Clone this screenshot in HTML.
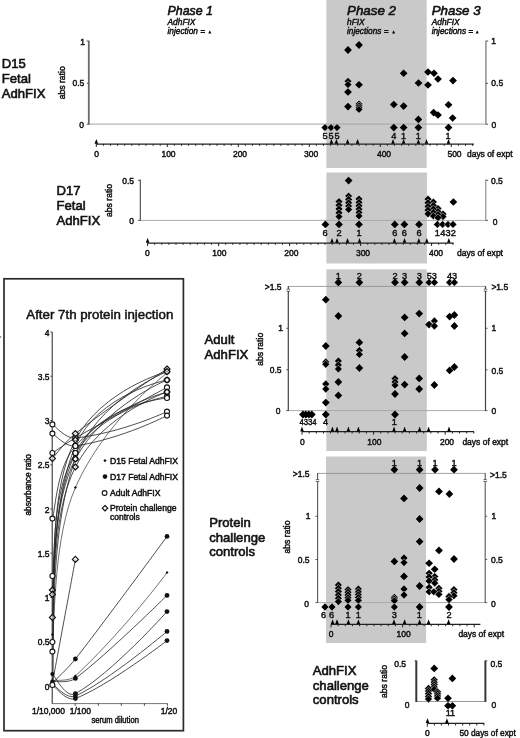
<!DOCTYPE html>
<html lang="en"><head><meta charset="utf-8"><title>Figure</title>
<style>html,body{margin:0;padding:0;background:#fff}svg{display:block}text{fill:#111;stroke:#111;stroke-width:0.45px}</style></head><body>
<svg width="520" height="738" viewBox="0 0 520 738" font-family="Liberation Sans, Arial, sans-serif">
<rect width="520" height="738" fill="#fff"/>
<rect x="326.4" y="0" width="100.3" height="168" fill="#c9c9c9"/>
<rect x="326.4" y="172.5" width="100.5" height="91.0" fill="#c9c9c9"/>
<rect x="326.4" y="269.3" width="100.4" height="181.7" fill="#c9c9c9"/>
<rect x="326.0" y="456.5" width="100.1" height="186.5" fill="#c9c9c9"/>
<text x="167.50" y="14.60" font-size="13.3" font-style="italic" style="stroke-width:0.6px" textLength="45.5" lengthAdjust="spacingAndGlyphs">Phase 1</text>
<text x="167.50" y="25.00" font-size="8.4" font-style="italic">AdhFIX</text>
<text x="167.50" y="34.10" font-size="8.4" font-style="italic" textLength="37.5" lengthAdjust="spacingAndGlyphs">injection =</text>
<path d="M208.3 33.5L209.8 30.3L211.3 33.5Z"/>
<text x="347.00" y="14.60" font-size="13.3" font-style="italic" style="stroke-width:0.6px" textLength="49" lengthAdjust="spacingAndGlyphs">Phase 2</text>
<text x="347.00" y="25.00" font-size="8.4" font-style="italic">hFIX</text>
<text x="347.00" y="34.10" font-size="8.4" font-style="italic" textLength="41.5" lengthAdjust="spacingAndGlyphs">injections =</text>
<path d="M392.1 33.5L393.6 30.3L395.1 33.5Z"/>
<text x="431.70" y="14.60" font-size="13.3" font-style="italic" style="stroke-width:0.6px" textLength="49" lengthAdjust="spacingAndGlyphs">Phase 3</text>
<text x="431.70" y="25.00" font-size="8.4" font-style="italic">AdhFIX</text>
<text x="431.70" y="34.10" font-size="8.4" font-style="italic" textLength="41.5" lengthAdjust="spacingAndGlyphs">injections =</text>
<path d="M475.7 33.5L477.2 30.3L478.7 33.5Z"/>
<text x="1.80" y="68.00" font-size="13.1" style="stroke-width:0.6px">D15</text>
<text x="1.80" y="83.00" font-size="13.1" style="stroke-width:0.6px">Fetal</text>
<text x="1.80" y="97.70" font-size="13.1" style="stroke-width:0.6px">AdhFIX</text>
<text transform="translate(64.5,82.8) rotate(-90)" font-size="8.4" text-anchor="middle" textLength="33" lengthAdjust="spacingAndGlyphs">abs ratio</text>
<path d="M89 124.1H486" stroke="#a4a4a4" stroke-width="1" fill="none"/>
<path d="M88.8 40.8V124.6" stroke="#6a6a6a" stroke-width="1.8" fill="none"/>
<path d="M485.9 40.8V124.6" stroke="#7c7c7c" stroke-width="1.3" fill="none"/>
<path d="M86.6 41h2.2M86.8 83.3h2M86.8 124.2h2M486 41h2.2M486 83.3h2M486 124.2h2" stroke="#444" stroke-width="0.9" fill="none"/>
<text x="85.00" y="44.90" font-size="8.5" text-anchor="end">1</text>
<text x="84.30" y="86.30" font-size="8.5" text-anchor="end">0.5</text>
<text x="84.00" y="127.60" font-size="8.5" text-anchor="end">0</text>
<text x="491.30" y="43.50" font-size="8.5">1</text>
<text x="491.30" y="86.00" font-size="8.5">0.5</text>
<text x="491.50" y="127.60" font-size="8.5">0</text>
<path d="M359.0 41.1L362.9 45.0L359.0 48.9L355.1 45.0Z"/>
<path d="M348.0 46.1L351.9 50.0L348.0 53.9L344.1 50.0Z"/>
<path d="M428.0 68.2L431.9 72.0L428.0 75.8L424.1 72.0Z"/>
<path d="M403.6 69.4L407.5 73.2L403.6 77.0L399.8 73.2Z"/>
<path d="M434.0 69.4L437.9 73.2L434.0 77.0L430.1 73.2Z"/>
<path d="M438.0 75.2L441.9 79.0L438.0 82.8L434.1 79.0Z"/>
<path d="M453.0 76.8L456.9 80.6L453.0 84.4L449.1 80.6Z"/>
<path d="M348.0 77.4L351.9 81.2L348.0 85.0L344.1 81.2Z" stroke="#fff" stroke-width="0.45"/>
<path d="M418.5 79.2L422.4 83.0L418.5 86.8L414.6 83.0Z"/>
<path d="M348.0 80.8L351.9 84.6L348.0 88.4L344.1 84.6Z" stroke="#fff" stroke-width="0.45"/>
<path d="M359.0 81.0L362.9 84.8L359.0 88.6L355.1 84.8Z"/>
<path d="M428.0 81.2L431.9 85.0L428.0 88.8L424.1 85.0Z"/>
<path d="M348.0 88.2L351.9 92.0L348.0 95.8L344.1 92.0Z"/>
<path d="M359.0 100.2L362.9 104.0L359.0 107.8L355.1 104.0Z" stroke="#fff" stroke-width="0.45"/>
<path d="M393.8 100.7L397.7 104.5L393.8 108.3L389.9 104.5Z"/>
<path d="M448.5 101.0L452.4 104.8L448.5 108.6L444.6 104.8Z"/>
<path d="M359.0 102.0L362.9 105.8L359.0 109.6L355.1 105.8Z" stroke="#fff" stroke-width="0.45"/>
<path d="M403.6 102.2L407.5 106.1L403.6 109.9L399.8 106.1Z"/>
<path d="M348.0 102.8L351.9 106.6L348.0 110.4L344.1 106.6Z"/>
<path d="M359.0 103.8L362.9 107.6L359.0 111.4L355.1 107.6Z" stroke="#fff" stroke-width="0.45"/>
<path d="M359.0 105.6L362.9 109.4L359.0 113.2L355.1 109.4Z" stroke="#fff" stroke-width="0.45"/>
<path d="M433.6 108.8L437.5 112.6L433.6 116.4L429.8 112.6Z"/>
<path d="M438.0 111.2L441.9 115.0L438.0 118.8L434.1 115.0Z"/>
<path d="M452.6 114.2L456.5 118.0L452.6 121.8L448.8 118.0Z"/>
<path d="M418.4 115.6L422.2 119.4L418.4 123.2L414.5 119.4Z"/>
<path d="M325.0 123.8L328.9 127.6L325.0 131.4L321.1 127.6Z" stroke="#fff" stroke-width="0.45"/>
<path d="M331.0 123.8L334.9 127.6L331.0 131.4L327.1 127.6Z" stroke="#fff" stroke-width="0.45"/>
<path d="M337.0 123.8L340.9 127.6L337.0 131.4L333.1 127.6Z" stroke="#fff" stroke-width="0.45"/>
<path d="M393.8 123.8L397.7 127.6L393.8 131.4L389.9 127.6Z"/>
<path d="M403.6 123.8L407.5 127.6L403.6 131.4L399.8 127.6Z"/>
<path d="M418.4 123.8L422.2 127.6L418.4 131.4L414.5 127.6Z"/>
<path d="M448.5 123.8L452.4 127.6L448.5 131.4L444.6 127.6Z"/>
<text x="325.00" y="138.60" font-size="9.2" text-anchor="middle">5</text>
<text x="331.00" y="138.60" font-size="9.2" text-anchor="middle">5</text>
<text x="337.00" y="138.60" font-size="9.2" text-anchor="middle">5</text>
<text x="393.80" y="138.60" font-size="9.2" text-anchor="middle">4</text>
<text x="403.60" y="138.60" font-size="9.2" text-anchor="middle">1</text>
<text x="418.40" y="138.60" font-size="9.2" text-anchor="middle">1</text>
<text x="448.00" y="138.60" font-size="9.2" text-anchor="middle">1</text>
<path d="M96.3 144H474.0" stroke="#222" stroke-width="1.25" fill="none"/>
<path d="M96.3 144v3.0M103.4 144v1.8M110.5 144v1.8M117.6 144v1.8M124.7 144v1.8M131.8 144v1.8M138.9 144v1.8M146.0 144v1.8M153.1 144v1.8M160.2 144v1.8M167.3 144v3.0M174.4 144v1.8M181.5 144v1.8M188.6 144v1.8M195.7 144v1.8M202.8 144v1.8M209.9 144v1.8M217.0 144v1.8M224.1 144v1.8M231.2 144v1.8M238.3 144v3.0M245.4 144v1.8M252.5 144v1.8M259.6 144v1.8M266.7 144v1.8M273.8 144v1.8M280.9 144v1.8M288.0 144v1.8M295.1 144v1.8M302.2 144v1.8M309.3 144v3.0M316.4 144v1.8M323.5 144v1.8M330.6 144v1.8M337.7 144v1.8M344.8 144v1.8M351.9 144v1.8M359.0 144v1.8M366.1 144v1.8M373.2 144v1.8M380.3 144v3.0M387.4 144v1.8M394.5 144v1.8M401.6 144v1.8M408.7 144v1.8M415.8 144v1.8M422.9 144v1.8M430.0 144v1.8M437.1 144v1.8M444.2 144v1.8M451.3 144v3.0M458.4 144v1.8M465.5 144v1.8M472.6 144v1.8" stroke="#222" stroke-width="1" fill="none"/>
<path d="M94.5 143.7L96.3 138.9L98.1 143.7Z"/>
<path d="M329.6 143.7L331.4 138.9L333.2 143.7Z"/>
<path d="M334.6 143.7L336.4 138.9L338.2 143.7Z"/>
<path d="M345.8 143.7L347.6 138.9L349.4 143.7Z"/>
<path d="M355.8 143.7L357.6 138.9L359.4 143.7Z"/>
<path d="M391.2 143.7L393.0 138.9L394.8 143.7Z"/>
<path d="M401.8 143.7L403.6 138.9L405.4 143.7Z"/>
<path d="M416.6 143.7L418.4 138.9L420.2 143.7Z"/>
<path d="M424.7 143.7L426.5 138.9L428.3 143.7Z"/>
<path d="M446.7 143.7L448.5 138.9L450.3 143.7Z"/>
<text x="96.60" y="157.00" font-size="8.5" text-anchor="middle">0</text>
<text x="168.50" y="157.00" font-size="8.5" text-anchor="middle">100</text>
<text x="240.00" y="157.00" font-size="8.5" text-anchor="middle">200</text>
<text x="311.20" y="157.00" font-size="8.5" text-anchor="middle">300</text>
<text x="384.00" y="157.00" font-size="8.5" text-anchor="middle">400</text>
<text x="454.50" y="157.00" font-size="8.5" text-anchor="middle">500</text>
<text x="467.00" y="157.00" font-size="8.5" textLength="45.5" lengthAdjust="spacingAndGlyphs">days of expt</text>
<text x="56.50" y="195.00" font-size="13.1" style="stroke-width:0.6px">D17</text>
<text x="56.50" y="209.60" font-size="13.1" style="stroke-width:0.6px">Fetal</text>
<text x="56.50" y="224.70" font-size="13.1" style="stroke-width:0.6px">AdhFIX</text>
<text transform="translate(111.6,200.5) rotate(-90)" font-size="8.4" text-anchor="middle" textLength="33" lengthAdjust="spacingAndGlyphs">abs ratio</text>
<path d="M140 220.4H486" stroke="#aaa" stroke-width="1" fill="none"/>
<path d="M140.3 179.6V220.8" stroke="#444" stroke-width="1.1" fill="none"/>
<path d="M485.8 179.6V220.8" stroke="#888" stroke-width="1.1" fill="none"/>
<path d="M138 180.3h2M138 220.4h2M486 180.3h2M486 220.4h2" stroke="#444" stroke-width="0.9" fill="none"/>
<text x="134.00" y="184.00" font-size="8.5" text-anchor="end">0.5</text>
<text x="134.00" y="223.60" font-size="8.5" text-anchor="end">0</text>
<text x="491.00" y="184.00" font-size="8.5">0.5</text>
<text x="492.80" y="225.20" font-size="8.5">0</text>
<path d="M348.6 176.8L352.5 180.6L348.6 184.4L344.8 180.6Z"/>
<path d="M348.6 192.2L352.5 196.0L348.6 199.8L344.8 196.0Z" stroke="#fff" stroke-width="0.45"/>
<path d="M359.0 195.2L362.9 199.0L359.0 202.8L355.1 199.0Z" stroke="#fff" stroke-width="0.45"/>
<path d="M428.0 195.3L431.9 199.2L428.0 203.0L424.1 199.2Z" stroke="#fff" stroke-width="0.45"/>
<path d="M348.6 195.5L352.5 199.4L348.6 203.2L344.8 199.4Z" stroke="#fff" stroke-width="0.45"/>
<path d="M339.0 197.8L342.9 201.6L339.0 205.4L335.1 201.6Z" stroke="#fff" stroke-width="0.45"/>
<path d="M433.4 198.2L437.2 202.0L433.4 205.8L429.5 202.0Z" stroke="#fff" stroke-width="0.45"/>
<path d="M453.4 198.2L457.2 202.0L453.4 205.8L449.5 202.0Z"/>
<path d="M359.0 198.6L362.9 202.4L359.0 206.2L355.1 202.4Z" stroke="#fff" stroke-width="0.45"/>
<path d="M348.6 198.9L352.5 202.8L348.6 206.6L344.8 202.8Z" stroke="#fff" stroke-width="0.45"/>
<path d="M428.0 199.0L431.9 202.8L428.0 206.7L424.1 202.8Z" stroke="#fff" stroke-width="0.45"/>
<path d="M339.0 201.5L342.9 205.3L339.0 209.2L335.1 205.3Z" stroke="#fff" stroke-width="0.45"/>
<path d="M433.4 201.7L437.2 205.5L433.4 209.3L429.5 205.5Z" stroke="#fff" stroke-width="0.45"/>
<path d="M359.0 202.0L362.9 205.8L359.0 209.7L355.1 205.8Z" stroke="#fff" stroke-width="0.45"/>
<path d="M348.6 202.3L352.5 206.1L348.6 210.0L344.8 206.1Z" stroke="#fff" stroke-width="0.45"/>
<path d="M428.0 202.7L431.9 206.5L428.0 210.3L424.1 206.5Z" stroke="#fff" stroke-width="0.45"/>
<path d="M438.0 204.7L441.9 208.5L438.0 212.3L434.1 208.5Z" stroke="#fff" stroke-width="0.45"/>
<path d="M433.4 205.2L437.2 209.0L433.4 212.8L429.5 209.0Z" stroke="#fff" stroke-width="0.45"/>
<path d="M339.0 205.2L342.9 209.1L339.0 212.9L335.1 209.1Z" stroke="#fff" stroke-width="0.45"/>
<path d="M359.0 205.3L362.9 209.2L359.0 213.0L355.1 209.2Z" stroke="#fff" stroke-width="0.45"/>
<path d="M348.6 205.7L352.5 209.5L348.6 213.3L344.8 209.5Z" stroke="#fff" stroke-width="0.45"/>
<path d="M428.0 206.3L431.9 210.2L428.0 214.0L424.1 210.2Z" stroke="#fff" stroke-width="0.45"/>
<path d="M438.0 207.7L441.9 211.6L438.0 215.4L434.1 211.6Z" stroke="#fff" stroke-width="0.45"/>
<path d="M433.4 208.7L437.2 212.5L433.4 216.3L429.5 212.5Z" stroke="#fff" stroke-width="0.45"/>
<path d="M359.0 208.8L362.9 212.6L359.0 216.4L355.1 212.6Z" stroke="#fff" stroke-width="0.45"/>
<path d="M339.0 209.0L342.9 212.8L339.0 216.7L335.1 212.8Z" stroke="#fff" stroke-width="0.45"/>
<path d="M428.0 210.0L431.9 213.8L428.0 217.7L424.1 213.8Z" stroke="#fff" stroke-width="0.45"/>
<path d="M443.0 210.2L446.9 214.0L443.0 217.8L439.1 214.0Z" stroke="#fff" stroke-width="0.45"/>
<path d="M438.0 210.8L441.9 214.6L438.0 218.5L434.1 214.6Z" stroke="#fff" stroke-width="0.45"/>
<path d="M359.0 212.2L362.9 216.0L359.0 219.8L355.1 216.0Z" stroke="#fff" stroke-width="0.45"/>
<path d="M433.4 212.2L437.2 216.0L433.4 219.8L429.5 216.0Z" stroke="#fff" stroke-width="0.45"/>
<path d="M339.0 212.8L342.9 216.6L339.0 220.4L335.1 216.6Z" stroke="#fff" stroke-width="0.45"/>
<path d="M443.0 212.8L446.9 216.6L443.0 220.4L439.1 216.6Z" stroke="#fff" stroke-width="0.45"/>
<path d="M438.0 213.8L441.9 217.7L438.0 221.5L434.1 217.7Z" stroke="#fff" stroke-width="0.45"/>
<path d="M325.4 220.6L329.2 224.4L325.4 228.2L321.5 224.4Z"/>
<path d="M339.0 220.6L342.9 224.4L339.0 228.2L335.1 224.4Z"/>
<path d="M359.0 220.6L362.9 224.4L359.0 228.2L355.1 224.4Z"/>
<path d="M394.8 220.6L398.7 224.4L394.8 228.2L390.9 224.4Z"/>
<path d="M404.4 220.6L408.2 224.4L404.4 228.2L400.5 224.4Z"/>
<path d="M419.0 220.6L422.9 224.4L419.0 228.2L415.1 224.4Z"/>
<path d="M437.4 220.6L441.2 224.4L437.4 228.2L433.5 224.4Z" stroke="#fff" stroke-width="0.45"/>
<path d="M442.6 220.6L446.5 224.4L442.6 228.2L438.8 224.4Z" stroke="#fff" stroke-width="0.45"/>
<path d="M448.0 220.6L451.9 224.4L448.0 228.2L444.1 224.4Z" stroke="#fff" stroke-width="0.45"/>
<path d="M453.0 220.6L456.9 224.4L453.0 228.2L449.1 224.4Z" stroke="#fff" stroke-width="0.45"/>
<text x="325.00" y="236.00" font-size="9.2" text-anchor="middle">6</text>
<text x="339.00" y="236.00" font-size="9.2" text-anchor="middle">2</text>
<text x="359.00" y="236.00" font-size="9.2" text-anchor="middle">1</text>
<text x="394.80" y="236.00" font-size="9.2" text-anchor="middle">6</text>
<text x="404.40" y="236.00" font-size="9.2" text-anchor="middle">6</text>
<text x="419.00" y="236.00" font-size="9.2" text-anchor="middle">6</text>
<text x="437.40" y="236.00" font-size="9.2" text-anchor="middle">1</text>
<text x="442.70" y="236.00" font-size="9.2" text-anchor="middle">4</text>
<text x="448.00" y="236.00" font-size="9.2" text-anchor="middle">3</text>
<text x="453.20" y="236.00" font-size="9.2" text-anchor="middle">2</text>
<path d="M147.6 243H453.8" stroke="#222" stroke-width="1.25" fill="none"/>
<path d="M147.6 243v3.0M154.7 243v1.8M161.8 243v1.8M168.9 243v1.8M176.0 243v1.8M183.1 243v1.8M190.2 243v1.8M197.3 243v1.8M204.4 243v1.8M211.5 243v1.8M218.6 243v3.0M225.7 243v1.8M232.8 243v1.8M239.9 243v1.8M247.0 243v1.8M254.1 243v1.8M261.2 243v1.8M268.3 243v1.8M275.4 243v1.8M282.5 243v1.8M289.6 243v3.0M296.7 243v1.8M303.8 243v1.8M310.9 243v1.8M318.0 243v1.8M325.1 243v1.8M332.2 243v1.8M339.3 243v1.8M346.4 243v1.8M353.5 243v1.8M360.6 243v3.0M367.7 243v1.8M374.8 243v1.8M381.9 243v1.8M389.0 243v1.8M396.1 243v1.8M403.2 243v1.8M410.3 243v1.8M417.4 243v1.8M424.5 243v1.8M431.6 243v3.0M438.7 243v1.8M445.8 243v1.8M452.9 243v1.8" stroke="#222" stroke-width="1" fill="none"/>
<path d="M145.8 242.7L147.6 237.9L149.4 242.7Z"/>
<path d="M330.2 242.7L332.0 237.9L333.8 242.7Z"/>
<path d="M335.2 242.7L337.0 237.9L338.8 242.7Z"/>
<path d="M345.7 242.7L347.5 237.9L349.3 242.7Z"/>
<path d="M357.7 242.7L359.5 237.9L361.3 242.7Z"/>
<path d="M392.6 242.7L394.4 237.9L396.2 242.7Z"/>
<path d="M402.7 242.7L404.5 237.9L406.3 242.7Z"/>
<path d="M417.0 242.7L418.8 237.9L420.6 242.7Z"/>
<path d="M425.0 242.7L426.8 237.9L428.6 242.7Z"/>
<path d="M447.0 242.7L448.8 237.9L450.6 242.7Z"/>
<text x="147.30" y="256.00" font-size="8.5" text-anchor="middle">0</text>
<text x="219.30" y="256.00" font-size="8.5" text-anchor="middle">100</text>
<text x="291.30" y="256.00" font-size="8.5" text-anchor="middle">200</text>
<text x="363.00" y="256.00" font-size="8.5" text-anchor="middle">300</text>
<text x="436.00" y="256.00" font-size="8.5" text-anchor="middle">400</text>
<text x="457.00" y="256.00" font-size="8.5" textLength="46" lengthAdjust="spacingAndGlyphs">days of expt</text>
<text x="204.60" y="343.60" font-size="13.1" style="stroke-width:0.6px">Adult</text>
<text x="204.60" y="358.80" font-size="13.1" style="stroke-width:0.6px">AdhFIX</text>
<text transform="translate(263.4,349.3) rotate(-90)" font-size="8.4" text-anchor="middle" textLength="33" lengthAdjust="spacingAndGlyphs">abs ratio</text>
<path d="M288.3 286.4H485.5" stroke="#8a8a8a" stroke-width="0.8" fill="none"/>
<path d="M288.3 410.6H485.5" stroke="#aaa" stroke-width="1" fill="none"/>
<path d="M288.3 286V411.1M485.5 286V411.1" stroke="#444" stroke-width="1.2" fill="none"/>
<path d="M286.3 328.3h2M286.3 369.8h2M286.3 410.6h2M485.5 328.3h2M485.5 369.8h2M485.5 410.6h2" stroke="#444" stroke-width="0.9" fill="none"/>
<path d="M286.6 289.3h3.4M286.6 291h3.4M483.8 289.3h3.4M483.8 291h3.4" stroke="#222" stroke-width="0.8" fill="none"/>
<rect x="287.4" y="289.4" width="1.8" height="1.5" fill="#fff"/><rect x="484.6" y="289.4" width="1.8" height="1.5" fill="#fff"/>
<text x="281.50" y="289.80" font-size="8.5" text-anchor="end">&gt;1.5</text>
<text x="283.00" y="331.30" font-size="8.5" text-anchor="end">1</text>
<text x="281.50" y="373.00" font-size="8.5" text-anchor="end">0.5</text>
<text x="280.50" y="413.80" font-size="8.5" text-anchor="end">0</text>
<text x="491.40" y="289.80" font-size="8.5">&gt;1.5</text>
<text x="491.50" y="331.30" font-size="8.5">1</text>
<text x="491.50" y="373.50" font-size="8.5">0.5</text>
<text x="491.50" y="413.60" font-size="8.5">0</text>
<path d="M338.4 278.5L342.2 282.4L338.4 286.2L334.5 282.4Z"/>
<path d="M359.4 278.5L363.2 282.4L359.4 286.2L355.5 282.4Z"/>
<path d="M395.0 278.5L398.9 282.4L395.0 286.2L391.1 282.4Z"/>
<path d="M404.6 278.5L408.5 282.4L404.6 286.2L400.8 282.4Z"/>
<path d="M419.3 278.5L423.2 282.4L419.3 286.2L415.4 282.4Z"/>
<path d="M429.0 278.5L432.9 282.4L429.0 286.2L425.1 282.4Z" stroke="#fff" stroke-width="0.45"/>
<path d="M434.4 278.5L438.2 282.4L434.4 286.2L430.5 282.4Z" stroke="#fff" stroke-width="0.45"/>
<path d="M449.6 278.5L453.5 282.4L449.6 286.2L445.8 282.4Z" stroke="#fff" stroke-width="0.45"/>
<path d="M454.4 278.5L458.2 282.4L454.4 286.2L450.5 282.4Z" stroke="#fff" stroke-width="0.45"/>
<path d="M325.8 295.8L329.7 299.7L325.8 303.6L321.9 299.7Z"/>
<path d="M419.2 309.8L423.1 313.6L419.2 317.5L415.3 313.6Z"/>
<path d="M454.4 311.1L458.2 315.0L454.4 318.9L450.5 315.0Z"/>
<path d="M338.4 312.1L342.2 316.0L338.4 319.9L334.5 316.0Z"/>
<path d="M449.6 312.8L453.5 316.6L449.6 320.5L445.8 316.6Z"/>
<path d="M404.6 313.5L408.5 317.4L404.6 321.2L400.8 317.4Z"/>
<path d="M434.4 317.1L438.2 321.0L434.4 324.9L430.5 321.0Z" stroke="#fff" stroke-width="0.45"/>
<path d="M429.0 320.8L432.9 324.6L429.0 328.5L425.1 324.6Z"/>
<path d="M434.4 322.1L438.2 326.0L434.4 329.9L430.5 326.0Z" stroke="#fff" stroke-width="0.45"/>
<path d="M454.4 322.1L458.2 326.0L454.4 329.9L450.5 326.0Z"/>
<path d="M404.6 329.5L408.5 333.4L404.6 337.2L400.8 333.4Z"/>
<path d="M359.4 338.5L363.2 342.4L359.4 346.2L355.5 342.4Z"/>
<path d="M325.8 342.1L329.7 346.0L325.8 349.9L321.9 346.0Z"/>
<path d="M359.4 346.5L363.2 350.4L359.4 354.2L355.5 350.4Z" stroke="#fff" stroke-width="0.45"/>
<path d="M359.4 350.5L363.2 354.4L359.4 358.2L355.5 354.4Z" stroke="#fff" stroke-width="0.45"/>
<path d="M404.6 353.1L408.5 357.0L404.6 360.9L400.8 357.0Z"/>
<path d="M338.4 357.1L342.2 361.0L338.4 364.9L334.5 361.0Z" stroke="#fff" stroke-width="0.45"/>
<path d="M325.8 358.1L329.7 362.0L325.8 365.9L321.9 362.0Z" stroke="#fff" stroke-width="0.45"/>
<path d="M325.8 360.4L329.7 364.3L325.8 368.2L321.9 364.3Z" stroke="#fff" stroke-width="0.45"/>
<path d="M338.4 361.1L342.2 365.0L338.4 368.9L334.5 365.0Z" stroke="#fff" stroke-width="0.45"/>
<path d="M454.4 363.1L458.2 367.0L454.4 370.9L450.5 367.0Z"/>
<path d="M359.4 364.1L363.2 368.0L359.4 371.9L355.5 368.0Z"/>
<path d="M338.4 365.1L342.2 369.0L338.4 372.9L334.5 369.0Z" stroke="#fff" stroke-width="0.45"/>
<path d="M449.6 366.5L453.5 370.4L449.6 374.2L445.8 370.4Z"/>
<path d="M419.2 374.5L423.1 378.4L419.2 382.2L415.3 378.4Z"/>
<path d="M395.0 374.8L398.9 378.6L395.0 382.5L391.1 378.6Z" stroke="#fff" stroke-width="0.45"/>
<path d="M338.4 378.1L342.2 382.0L338.4 385.9L334.5 382.0Z"/>
<path d="M395.0 378.1L398.9 382.0L395.0 385.9L391.1 382.0Z" stroke="#fff" stroke-width="0.45"/>
<path d="M325.8 380.1L329.7 384.0L325.8 387.9L321.9 384.0Z" stroke="#fff" stroke-width="0.45"/>
<path d="M404.6 380.8L408.5 384.6L404.6 388.5L400.8 384.6Z"/>
<path d="M434.4 381.1L438.2 385.0L434.4 388.9L430.5 385.0Z"/>
<path d="M395.0 381.3L398.9 385.2L395.0 389.1L391.1 385.2Z" stroke="#fff" stroke-width="0.45"/>
<path d="M325.8 385.1L329.7 389.0L325.8 392.9L321.9 389.0Z" stroke="#fff" stroke-width="0.45"/>
<path d="M419.2 385.1L423.1 389.0L419.2 392.9L415.3 389.0Z"/>
<path d="M395.0 390.1L398.9 394.0L395.0 397.9L391.1 394.0Z"/>
<path d="M338.4 391.5L342.2 395.4L338.4 399.2L334.5 395.4Z"/>
<path d="M325.8 398.8L329.7 402.6L325.8 406.5L321.9 402.6Z"/>
<path d="M303.0 410.6L306.9 414.5L303.0 418.4L299.1 414.5Z"/>
<path d="M305.8 410.6L309.7 414.5L305.8 418.4L301.9 414.5Z"/>
<path d="M308.8 410.6L312.7 414.5L308.8 418.4L304.9 414.5Z"/>
<path d="M311.8 410.6L315.7 414.5L311.8 418.4L307.9 414.5Z"/>
<path d="M325.8 410.6L329.7 414.5L325.8 418.4L321.9 414.5Z"/>
<path d="M395.0 410.6L398.9 414.5L395.0 418.4L391.1 414.5Z"/>
<text x="338.40" y="279.40" font-size="9.2" text-anchor="middle">1</text>
<text x="359.40" y="279.40" font-size="9.2" text-anchor="middle">2</text>
<text x="395.00" y="279.40" font-size="9.2" text-anchor="middle">2</text>
<text x="404.60" y="279.40" font-size="9.2" text-anchor="middle">3</text>
<text x="419.30" y="279.40" font-size="9.2" text-anchor="middle">3</text>
<text x="429.30" y="279.40" font-size="9.2" text-anchor="middle">5</text>
<text x="434.30" y="279.40" font-size="9.2" text-anchor="middle">3</text>
<text x="449.60" y="279.40" font-size="9.2" text-anchor="middle">4</text>
<text x="454.50" y="279.40" font-size="9.2" text-anchor="middle">3</text>
<text x="299.40" y="424.90" font-size="9.2" textLength="17.3" lengthAdjust="spacingAndGlyphs">4334</text>
<text x="325.50" y="424.90" font-size="9.2" text-anchor="middle">4</text>
<text x="394.30" y="424.90" font-size="9.2" text-anchor="middle">1</text>
<path d="M302.0 431.7H474.0" stroke="#222" stroke-width="1.25" fill="none"/>
<path d="M302.0 431.7v3.0M309.2 431.7v1.8M316.3 431.7v1.8M323.5 431.7v1.8M330.6 431.7v1.8M337.8 431.7v1.8M345.0 431.7v1.8M352.1 431.7v1.8M359.3 431.7v1.8M366.4 431.7v1.8M373.6 431.7v3.0M380.8 431.7v1.8M387.9 431.7v1.8M395.1 431.7v1.8M402.2 431.7v1.8M409.4 431.7v1.8M416.6 431.7v1.8M423.7 431.7v1.8M430.9 431.7v1.8M438.0 431.7v1.8M445.2 431.7v3.0M452.4 431.7v1.8M459.5 431.7v1.8M466.7 431.7v1.8M473.8 431.7v1.8" stroke="#222" stroke-width="1" fill="none"/>
<path d="M300.2 431.4L302.0 426.6L303.8 431.4Z"/>
<path d="M330.6 431.4L332.4 426.6L334.2 431.4Z"/>
<path d="M335.2 431.4L337.0 426.6L338.8 431.4Z"/>
<path d="M346.6 431.4L348.4 426.6L350.2 431.4Z"/>
<path d="M356.6 431.4L358.4 426.6L360.2 431.4Z"/>
<path d="M392.2 431.4L394.0 426.6L395.8 431.4Z"/>
<path d="M402.8 431.4L404.6 426.6L406.4 431.4Z"/>
<path d="M417.8 431.4L419.6 426.6L421.4 431.4Z"/>
<path d="M426.8 431.4L428.6 426.6L430.4 431.4Z"/>
<path d="M447.2 431.4L449.0 426.6L450.8 431.4Z"/>
<text x="302.30" y="444.70" font-size="8.5" text-anchor="middle">0</text>
<text x="374.40" y="444.70" font-size="8.5" text-anchor="middle">100</text>
<text x="447.00" y="444.70" font-size="8.5" text-anchor="middle">200</text>
<text x="462.40" y="444.70" font-size="8.5" textLength="45.8" lengthAdjust="spacingAndGlyphs">days of expt</text>
<text x="209.20" y="527.00" font-size="13.1" style="stroke-width:0.6px">Protein</text>
<text x="209.20" y="541.50" font-size="13.1" style="stroke-width:0.6px">challenge</text>
<text x="209.20" y="555.90" font-size="13.1" style="stroke-width:0.6px">controls</text>
<text transform="translate(289.7,537) rotate(-90)" font-size="8.4" text-anchor="middle" textLength="33" lengthAdjust="spacingAndGlyphs">abs ratio</text>
<path d="M317.5 473.4H485.2" stroke="#8a8a8a" stroke-width="0.8" fill="none"/>
<path d="M317.5 602.6H485.2" stroke="#aaa" stroke-width="1" fill="none"/>
<path d="M317.6 473V603.1M485.2 473V603.1" stroke="#585858" stroke-width="1.1" fill="none"/>
<path d="M315.5 516.3h2M315.5 559.5h2M315.5 602.6h2M485.2 516.3h2M485.2 559.5h2M485.2 602.6h2" stroke="#444" stroke-width="0.9" fill="none"/>
<path d="M315.8 479.8h3.4M315.8 481.5h3.4M483.5 479.8h3.4M483.5 481.5h3.4" stroke="#222" stroke-width="0.8" fill="none"/>
<rect x="316.6" y="479.9" width="1.8" height="1.5" fill="#fff"/><rect x="484.3" y="479.9" width="1.8" height="1.5" fill="#fff"/>
<text x="309.50" y="476.80" font-size="8.5" text-anchor="end">&gt;1.5</text>
<text x="310.50" y="518.70" font-size="8.5" text-anchor="end">1</text>
<text x="309.50" y="562.70" font-size="8.5" text-anchor="end">0.5</text>
<text x="309.00" y="606.80" font-size="8.5" text-anchor="end">0</text>
<text x="490.00" y="478.00" font-size="8.5">&gt;1.5</text>
<text x="491.50" y="519.20" font-size="8.5">1</text>
<text x="491.00" y="562.80" font-size="8.5">0.5</text>
<text x="491.00" y="607.20" font-size="8.5">0</text>
<path d="M394.4 465.8L398.2 469.7L394.4 473.6L390.5 469.7Z"/>
<path d="M419.6 465.8L423.5 469.7L419.6 473.6L415.8 469.7Z"/>
<path d="M435.0 465.8L438.9 469.7L435.0 473.6L431.1 469.7Z"/>
<path d="M454.0 465.8L457.9 469.7L454.0 473.6L450.1 469.7Z"/>
<path d="M419.6 484.1L423.5 488.0L419.6 491.9L415.8 488.0Z"/>
<path d="M439.0 487.5L442.9 491.4L439.0 495.2L435.1 491.4Z"/>
<path d="M449.4 490.1L453.2 494.0L449.4 497.9L445.5 494.0Z"/>
<path d="M404.0 494.5L407.9 498.4L404.0 502.2L400.1 498.4Z"/>
<path d="M419.6 515.1L423.5 519.0L419.6 522.9L415.8 519.0Z"/>
<path d="M419.6 537.8L423.5 541.6L419.6 545.5L415.8 541.6Z"/>
<path d="M439.0 546.5L442.9 550.4L439.0 554.2L435.1 550.4Z"/>
<path d="M404.0 554.1L407.9 558.0L404.0 561.9L400.1 558.0Z" stroke="#fff" stroke-width="0.45"/>
<path d="M454.0 555.1L457.9 559.0L454.0 562.9L450.1 559.0Z"/>
<path d="M394.4 557.5L398.2 561.4L394.4 565.2L390.5 561.4Z"/>
<path d="M404.0 558.8L407.9 562.6L404.0 566.5L400.1 562.6Z" stroke="#fff" stroke-width="0.45"/>
<path d="M429.1 559.4L433.0 563.2L429.1 567.1L425.2 563.2Z"/>
<path d="M434.7 565.4L438.6 569.3L434.7 573.1L430.8 569.3Z"/>
<path d="M429.1 569.4L433.0 573.2L429.1 577.1L425.2 573.2Z" stroke="#fff" stroke-width="0.45"/>
<path d="M404.0 572.5L407.9 576.4L404.0 580.2L400.1 576.4Z"/>
<path d="M434.7 572.8L438.6 576.6L434.7 580.5L430.8 576.6Z" stroke="#fff" stroke-width="0.45"/>
<path d="M429.1 573.2L433.0 577.1L429.1 581.0L425.2 577.1Z" stroke="#fff" stroke-width="0.45"/>
<path d="M434.7 576.0L438.6 579.9L434.7 583.7L430.8 579.9Z" stroke="#fff" stroke-width="0.45"/>
<path d="M429.1 577.1L433.0 581.0L429.1 584.9L425.2 581.0Z" stroke="#fff" stroke-width="0.45"/>
<path d="M434.7 579.2L438.6 583.1L434.7 587.0L430.8 583.1Z" stroke="#fff" stroke-width="0.45"/>
<path d="M338.4 581.1L342.2 585.0L338.4 588.9L334.5 585.0Z" stroke="#fff" stroke-width="0.45"/>
<path d="M419.6 582.1L423.5 586.0L419.6 589.9L415.8 586.0Z"/>
<path d="M429.1 583.5L433.0 587.4L429.1 591.2L425.2 587.4Z" stroke="#fff" stroke-width="0.45"/>
<path d="M438.9 584.4L442.8 588.3L438.9 592.1L435.0 588.3Z" stroke="#fff" stroke-width="0.45"/>
<path d="M338.4 584.5L342.2 588.3L338.4 592.2L334.5 588.3Z" stroke="#fff" stroke-width="0.45"/>
<path d="M358.4 585.1L362.2 589.0L358.4 592.9L354.5 589.0Z" stroke="#fff" stroke-width="0.45"/>
<path d="M404.0 585.1L407.9 589.0L404.0 592.9L400.1 589.0Z" stroke="#fff" stroke-width="0.45"/>
<path d="M348.0 585.8L351.9 589.6L348.0 593.5L344.1 589.6Z" stroke="#fff" stroke-width="0.45"/>
<path d="M453.9 585.8L457.8 589.6L453.9 593.5L450.0 589.6Z" stroke="#fff" stroke-width="0.45"/>
<path d="M438.9 587.5L442.8 591.3L438.9 595.2L435.0 591.3Z" stroke="#fff" stroke-width="0.45"/>
<path d="M338.4 587.8L342.2 591.6L338.4 595.5L334.5 591.6Z" stroke="#fff" stroke-width="0.45"/>
<path d="M429.1 587.9L433.0 591.8L429.1 595.6L425.2 591.8Z" stroke="#fff" stroke-width="0.45"/>
<path d="M433.8 587.9L437.7 591.8L433.8 595.6L429.9 591.8Z" stroke="#fff" stroke-width="0.45"/>
<path d="M358.4 588.0L362.2 591.9L358.4 595.7L354.5 591.9Z" stroke="#fff" stroke-width="0.45"/>
<path d="M348.0 588.4L351.9 592.3L348.0 596.1L344.1 592.3Z" stroke="#fff" stroke-width="0.45"/>
<path d="M453.9 588.8L457.8 592.7L453.9 596.5L450.0 592.7Z" stroke="#fff" stroke-width="0.45"/>
<path d="M438.9 590.5L442.8 594.4L438.9 598.2L435.0 594.4Z" stroke="#fff" stroke-width="0.45"/>
<path d="M358.4 590.9L362.2 594.7L358.4 598.6L354.5 594.7Z" stroke="#fff" stroke-width="0.45"/>
<path d="M338.4 591.1L342.2 595.0L338.4 598.8L334.5 595.0Z" stroke="#fff" stroke-width="0.45"/>
<path d="M348.0 591.1L351.9 595.0L348.0 598.9L344.1 595.0Z" stroke="#fff" stroke-width="0.45"/>
<path d="M404.0 591.1L407.9 595.0L404.0 598.9L400.1 595.0Z" stroke="#fff" stroke-width="0.45"/>
<path d="M453.9 591.9L457.8 595.7L453.9 599.6L450.0 595.7Z" stroke="#fff" stroke-width="0.45"/>
<path d="M449.0 592.6L452.9 596.5L449.0 600.4L445.1 596.5Z" stroke="#fff" stroke-width="0.45"/>
<path d="M394.4 593.4L398.2 597.2L394.4 601.1L390.5 597.2Z" stroke="#fff" stroke-width="0.45"/>
<path d="M358.4 593.7L362.2 597.5L358.4 601.4L354.5 597.5Z" stroke="#fff" stroke-width="0.45"/>
<path d="M348.0 593.9L351.9 597.7L348.0 601.6L344.1 597.7Z" stroke="#fff" stroke-width="0.45"/>
<path d="M338.4 594.4L342.2 598.3L338.4 602.1L334.5 598.3Z" stroke="#fff" stroke-width="0.45"/>
<path d="M394.4 595.1L398.2 599.0L394.4 602.9L390.5 599.0Z" stroke="#fff" stroke-width="0.45"/>
<path d="M449.0 595.8L452.9 599.6L449.0 603.5L445.1 599.6Z" stroke="#fff" stroke-width="0.45"/>
<path d="M348.0 596.5L351.9 600.4L348.0 604.2L344.1 600.4Z" stroke="#fff" stroke-width="0.45"/>
<path d="M358.4 596.5L362.2 600.4L358.4 604.2L354.5 600.4Z" stroke="#fff" stroke-width="0.45"/>
<path d="M394.4 596.9L398.2 600.8L394.4 604.6L390.5 600.8Z" stroke="#fff" stroke-width="0.45"/>
<path d="M338.4 597.8L342.2 601.6L338.4 605.5L334.5 601.6Z" stroke="#fff" stroke-width="0.45"/>
<path d="M325.0 603.1L328.9 607.0L325.0 610.9L321.1 607.0Z" stroke="#fff" stroke-width="0.45"/>
<path d="M332.0 603.1L335.9 607.0L332.0 610.9L328.1 607.0Z" stroke="#fff" stroke-width="0.45"/>
<path d="M348.0 603.1L351.9 607.0L348.0 610.9L344.1 607.0Z" stroke="#fff" stroke-width="0.45"/>
<path d="M358.4 603.1L362.2 607.0L358.4 610.9L354.5 607.0Z" stroke="#fff" stroke-width="0.45"/>
<path d="M394.4 603.1L398.2 607.0L394.4 610.9L390.5 607.0Z" stroke="#fff" stroke-width="0.45"/>
<path d="M419.6 603.1L423.5 607.0L419.6 610.9L415.8 607.0Z"/>
<path d="M449.0 603.1L452.9 607.0L449.0 610.9L445.1 607.0Z"/>
<text x="394.40" y="465.80" font-size="9.2" text-anchor="middle">1</text>
<text x="419.60" y="465.80" font-size="9.2" text-anchor="middle">1</text>
<text x="435.00" y="465.80" font-size="9.2" text-anchor="middle">1</text>
<text x="454.00" y="465.80" font-size="9.2" text-anchor="middle">1</text>
<text x="323.60" y="618.20" font-size="9.2" text-anchor="middle">6</text>
<text x="331.60" y="618.20" font-size="9.2" text-anchor="middle">6</text>
<text x="348.00" y="618.20" font-size="9.2" text-anchor="middle">1</text>
<text x="358.40" y="618.20" font-size="9.2" text-anchor="middle">1</text>
<text x="394.40" y="618.20" font-size="9.2" text-anchor="middle">3</text>
<text x="419.30" y="618.20" font-size="9.2" text-anchor="middle">1</text>
<text x="449.00" y="618.20" font-size="9.2" text-anchor="middle">2</text>
<path d="M331.0 624.4H480.4" stroke="#222" stroke-width="1.25" fill="none"/>
<path d="M331.0 624.4v3.0M338.2 624.4v1.8M345.3 624.4v1.8M352.5 624.4v1.8M359.6 624.4v1.8M366.8 624.4v1.8M374.0 624.4v1.8M381.1 624.4v1.8M388.3 624.4v1.8M395.4 624.4v1.8M402.6 624.4v3.0M409.8 624.4v1.8M416.9 624.4v1.8M424.1 624.4v1.8M431.2 624.4v1.8M438.4 624.4v1.8M445.6 624.4v1.8M452.7 624.4v1.8M459.9 624.4v1.8M467.0 624.4v1.8M474.2 624.4v3.0" stroke="#222" stroke-width="1" fill="none"/>
<path d="M330.8 624.1L332.6 619.3L334.4 624.1Z"/>
<path d="M335.2 624.1L337.0 619.3L338.8 624.1Z"/>
<path d="M346.6 624.1L348.4 619.3L350.2 624.1Z"/>
<path d="M356.6 624.1L358.4 619.3L360.2 624.1Z"/>
<path d="M392.2 624.1L394.0 619.3L395.8 624.1Z"/>
<path d="M402.8 624.1L404.6 619.3L406.4 624.1Z"/>
<path d="M417.8 624.1L419.6 619.3L421.4 624.1Z"/>
<path d="M426.8 624.1L428.6 619.3L430.4 624.1Z"/>
<path d="M446.8 624.1L448.6 619.3L450.4 624.1Z"/>
<text x="331.00" y="637.40" font-size="8.5" text-anchor="middle">0</text>
<text x="403.60" y="637.40" font-size="8.5" text-anchor="middle">100</text>
<text x="458.40" y="637.40" font-size="8.5" textLength="45.6" lengthAdjust="spacingAndGlyphs">days of expt</text>
<text x="312.80" y="675.00" font-size="13.1" style="stroke-width:0.6px">AdhFIX</text>
<text x="312.80" y="689.80" font-size="13.1" style="stroke-width:0.6px">challenge</text>
<text x="312.80" y="704.30" font-size="13.1" style="stroke-width:0.6px">controls</text>
<text transform="translate(387.3,681.5) rotate(-90)" font-size="8.4" text-anchor="middle" textLength="33" lengthAdjust="spacingAndGlyphs">abs ratio</text>
<path d="M416.2 701.5H485.4" stroke="#999" stroke-width="1" fill="none"/>
<path d="M416.3 660.5V702M485.4 660.5V702" stroke="#383838" stroke-width="2" fill="none"/>
<path d="M414.6 660.9h1.7M485.4 660.9h1.9" stroke="#383838" stroke-width="0.9" fill="none"/>
<text x="406.00" y="667.20" font-size="8.5" text-anchor="end">0.5</text>
<text x="409.50" y="708.00" font-size="8.5" text-anchor="end">0</text>
<text x="490.50" y="667.20" font-size="8.5">0.5</text>
<text x="491.50" y="708.00" font-size="8.5">0</text>
<path d="M434.2 664.5L438.1 668.4L434.2 672.2L430.3 668.4Z"/>
<path d="M452.4 674.5L456.2 678.4L452.4 682.2L448.5 678.4Z"/>
<path d="M434.2 675.9L438.1 679.8L434.2 683.6L430.3 679.8Z" stroke="#fff" stroke-width="0.45"/>
<path d="M434.2 678.3L438.1 682.2L434.2 686.0L430.3 682.2Z" stroke="#fff" stroke-width="0.45"/>
<path d="M434.2 680.7L438.1 684.6L434.2 688.4L430.3 684.6Z" stroke="#fff" stroke-width="0.45"/>
<path d="M434.2 683.1L438.1 687.0L434.2 690.9L430.3 687.0Z" stroke="#fff" stroke-width="0.45"/>
<path d="M428.5 684.5L432.4 688.4L428.5 692.2L424.6 688.4Z" stroke="#fff" stroke-width="0.45"/>
<path d="M434.2 685.5L438.1 689.4L434.2 693.2L430.3 689.4Z" stroke="#fff" stroke-width="0.45"/>
<path d="M428.5 687.2L432.4 691.0L428.5 694.9L424.6 691.0Z" stroke="#fff" stroke-width="0.45"/>
<path d="M437.5 687.9L441.4 691.8L437.5 695.6L433.6 691.8Z" stroke="#fff" stroke-width="0.45"/>
<path d="M428.5 689.9L432.4 693.7L428.5 697.6L424.6 693.7Z" stroke="#fff" stroke-width="0.45"/>
<path d="M437.5 690.1L441.4 693.9L437.5 697.8L433.6 693.9Z" stroke="#fff" stroke-width="0.45"/>
<path d="M437.5 692.2L441.4 696.1L437.5 699.9L433.6 696.1Z" stroke="#fff" stroke-width="0.45"/>
<path d="M428.5 692.5L432.4 696.4L428.5 700.2L424.6 696.4Z" stroke="#fff" stroke-width="0.45"/>
<path d="M437.5 694.4L441.4 698.2L437.5 702.1L433.6 698.2Z" stroke="#fff" stroke-width="0.45"/>
<path d="M448.0 694.4L451.9 698.2L448.0 702.1L444.1 698.2Z"/>
<path d="M428.5 695.1L432.4 699.0L428.5 702.9L424.6 699.0Z" stroke="#fff" stroke-width="0.45"/>
<path d="M448.0 701.9L451.9 705.8L448.0 709.6L444.1 705.8Z"/>
<path d="M452.4 701.9L456.2 705.8L452.4 709.6L448.5 705.8Z"/>
<text x="450.40" y="716.40" font-size="9.2" text-anchor="middle">11</text>
<path d="M427.3 723.3H484.3" stroke="#222" stroke-width="1.25" fill="none"/>
<path d="M427.3 723.3v3.4M434.4 723.3v2.2M441.4 723.3v2.2M448.5 723.3v2.2M455.6 723.3v2.2M462.7 723.3v2.2M469.7 723.3v2.2M476.8 723.3v2.2M483.9 723.3v2.2" stroke="#222" stroke-width="1" fill="none"/>
<path d="M425.7 723.0L427.5 718.2L429.3 723.0Z"/>
<path d="M445.1 723.0L446.9 718.2L448.7 723.0Z"/>
<text x="427.30" y="735.60" font-size="8.5" text-anchor="middle">0</text>
<text x="459.40" y="735.60" font-size="8.5" textLength="56.4" lengthAdjust="spacingAndGlyphs">50 days of expt</text>
<rect x="4" y="278.8" width="179.4" height="451.9" fill="#fff" stroke="#2a2a2a" stroke-width="1.7"/>
<rect x="0" y="336" width="1.2" height="2" fill="#999"/>
<text x="26.30" y="319.30" font-size="11.9" textLength="147" lengthAdjust="spacingAndGlyphs">After 7th protein injection</text>
<text transform="translate(31,484.8) rotate(-90)" font-size="8.2" text-anchor="middle" textLength="61.5" lengthAdjust="spacingAndGlyphs">absorbance ratio</text>
<path d="M52.2 332V704" stroke="#222" stroke-width="1" fill="none"/>
<path d="M52.2 703.6H167.4" stroke="#666" stroke-width="0.9" fill="none"/>
<path d="M50.4 686.0h1.8M50.4 641.8h1.8M50.4 597.5h1.8M50.4 553.2h1.8M50.4 509.0h1.8M50.4 464.8h1.8M50.4 420.5h1.8M50.4 376.2h1.8M50.4 332.0h1.8M75.2 703.4v2.4M98.3 703.4v2.4M121.3 703.4v2.4M144.4 703.4v2.4M167.4 703.4v2.4" stroke="#222" stroke-width="0.8" fill="none"/>
<text x="49.50" y="335.60" font-size="8.5" text-anchor="end">4</text>
<text x="49.50" y="379.85" font-size="8.5" text-anchor="end">3.5</text>
<text x="49.50" y="424.10" font-size="8.5" text-anchor="end">3</text>
<text x="49.50" y="468.35" font-size="8.5" text-anchor="end">2.5</text>
<text x="49.50" y="512.60" font-size="8.5" text-anchor="end">2</text>
<text x="49.50" y="556.85" font-size="8.5" text-anchor="end">1.5</text>
<text x="49.50" y="601.10" font-size="8.5" text-anchor="end">1</text>
<text x="49.50" y="645.35" font-size="8.5" text-anchor="end">0.5</text>
<text x="49.50" y="689.60" font-size="8.5" text-anchor="end">0</text>
<text x="48.50" y="713.80" font-size="8.5" text-anchor="middle">1/10,000</text>
<text x="80.40" y="713.80" font-size="8.5" text-anchor="middle">1/100</text>
<text x="169.00" y="713.80" font-size="8.5" text-anchor="middle">1/20</text>
<text x="91.40" y="722.80" font-size="8.2" textLength="47.5" lengthAdjust="spacingAndGlyphs">serum dilution</text>
<path d="M52.4 424.4C55.4 426.2 65.8 439.1 75.4 438.0C122.8 432.7 167.0 411.6 167.0 411.6" stroke="#222" stroke-width="0.8" fill="none"/>
<path d="M52.4 433.6C55.4 435.2 66.1 447.5 75.4 446.0C123.1 438.5 167.0 415.6 167.0 415.6" stroke="#222" stroke-width="0.8" fill="none"/>
<path d="M52.4 453.0C55.4 451.1 66.8 442.9 75.4 438.0C120.8 412.0 167.0 387.4 167.0 387.4" stroke="#222" stroke-width="0.8" fill="none"/>
<path d="M52.4 518.6C55.4 509.2 57.0 466.3 75.4 446.0C111.1 406.6 167.0 392.0 167.0 392.0" stroke="#222" stroke-width="0.8" fill="none"/>
<path d="M52.4 576.0C55.4 560.0 51.2 491.0 75.4 453.0C104.4 407.6 167.0 396.4 167.0 396.4" stroke="#222" stroke-width="0.8" fill="none"/>
<path d="M52.4 642.0C55.4 617.4 46.3 515.0 75.4 453.0C98.1 404.6 167.0 398.0 167.0 398.0" stroke="#222" stroke-width="0.8" fill="none"/>
<path d="M52.4 651.6C55.4 624.9 46.4 514.6 75.4 446.0C97.3 394.0 167.0 380.0 167.0 380.0" stroke="#222" stroke-width="0.8" fill="none"/>
<path d="M52.4 685.0C55.4 655.6 47.3 535.8 75.4 459.0C97.1 399.5 167.0 371.6 167.0 371.6" stroke="#222" stroke-width="0.8" fill="none"/>
<path d="M52.4 458.4C55.4 455.2 65.8 441.1 75.4 433.6C119.6 399.1 167.0 369.0 167.0 369.0" stroke="#222" stroke-width="0.8" fill="none"/>
<path d="M52.4 590.0C55.4 570.5 50.0 488.4 75.4 440.0C102.0 389.4 167.0 371.6 167.0 371.6" stroke="#222" stroke-width="0.8" fill="none"/>
<path d="M52.4 594.4C55.4 576.8 52.1 502.6 75.4 459.0C103.9 405.7 167.0 380.0 167.0 380.0" stroke="#222" stroke-width="0.8" fill="none"/>
<path d="M52.4 617.4C55.4 597.8 50.6 515.8 75.4 467.0C102.2 414.2 167.0 392.0 167.0 392.0" stroke="#222" stroke-width="0.8" fill="none"/>
<path d="M52.4 683.0C55.4 666.9 75.4 559.4 75.4 559.4" stroke="#222" stroke-width="0.8" fill="none"/>
<path d="M52.4 634.4C55.4 615.3 53.9 536.6 75.4 487.6C104.9 420.4 167.0 373.0 167.0 373.0" stroke="#333" stroke-width="0.7" fill="none"/>
<path d="M52.4 680.5C55.4 679.9 69.3 681.8 75.4 676.0C125.7 628.7 167.0 572.6 167.0 572.6" stroke="#333" stroke-width="0.7" fill="none"/>
<path d="M52.4 683.0C55.4 679.9 68.0 668.4 75.4 659.0C106.5 619.2 167.0 536.4 167.0 536.4" stroke="#222" stroke-width="0.8" fill="none"/>
<path d="M52.4 681.5C55.4 681.1 68.7 683.4 75.4 678.4C108.0 653.9 167.0 595.4 167.0 595.4" stroke="#222" stroke-width="0.8" fill="none"/>
<path d="M52.4 674.0C55.4 676.5 65.8 698.8 75.4 693.6C111.0 674.2 167.0 611.6 167.0 611.6" stroke="#222" stroke-width="0.8" fill="none"/>
<path d="M52.4 684.0C55.4 685.6 66.9 699.9 75.4 696.0C109.0 680.6 167.0 631.4 167.0 631.4" stroke="#222" stroke-width="0.8" fill="none"/>
<path d="M52.4 685.0C55.4 686.8 66.4 702.0 75.4 698.5C108.7 685.6 167.0 640.6 167.0 640.6" stroke="#222" stroke-width="0.8" fill="none"/>
<circle cx="52.4" cy="683.0" r="2.1" fill="#111"/>
<circle cx="75.4" cy="659.0" r="2.4" fill="#111"/>
<circle cx="167.0" cy="536.4" r="2.4" fill="#111"/>
<circle cx="52.4" cy="681.5" r="2.1" fill="#111"/>
<circle cx="75.4" cy="678.4" r="2.4" fill="#111"/>
<circle cx="167.0" cy="595.4" r="2.4" fill="#111"/>
<circle cx="52.4" cy="674.0" r="2.1" fill="#111"/>
<circle cx="75.4" cy="693.6" r="2.4" fill="#111"/>
<circle cx="167.0" cy="611.6" r="2.4" fill="#111"/>
<circle cx="52.4" cy="684.0" r="2.1" fill="#111"/>
<circle cx="75.4" cy="696.0" r="2.4" fill="#111"/>
<circle cx="167.0" cy="631.4" r="2.4" fill="#111"/>
<circle cx="52.4" cy="685.0" r="2.1" fill="#111"/>
<circle cx="75.4" cy="698.5" r="2.4" fill="#111"/>
<circle cx="167.0" cy="640.6" r="2.4" fill="#111"/>
<path d="M52.4 632.9L53.9 634.4L52.4 635.9L50.9 634.4Z" fill="#111"/>
<path d="M75.4 486.1L76.9 487.6L75.4 489.1L73.9 487.6Z" fill="#111"/>
<path d="M167.0 371.5L168.5 373.0L167.0 374.5L165.5 373.0Z" fill="#111"/>
<path d="M52.4 679.0L53.9 680.5L52.4 682.0L50.9 680.5Z" fill="#111"/>
<path d="M75.4 674.5L76.9 676.0L75.4 677.5L73.9 676.0Z" fill="#111"/>
<path d="M167.0 571.1L168.5 572.6L167.0 574.1L165.5 572.6Z" fill="#111"/>
<circle cx="52.4" cy="424.4" r="2.5" fill="#fff" stroke="#111" stroke-width="1.1"/>
<circle cx="75.4" cy="438.0" r="2.5" fill="#fff" stroke="#111" stroke-width="1.1"/>
<circle cx="167.0" cy="411.6" r="2.5" fill="#fff" stroke="#111" stroke-width="1.1"/>
<circle cx="52.4" cy="433.6" r="2.5" fill="#fff" stroke="#111" stroke-width="1.1"/>
<circle cx="75.4" cy="446.0" r="2.5" fill="#fff" stroke="#111" stroke-width="1.1"/>
<circle cx="167.0" cy="415.6" r="2.5" fill="#fff" stroke="#111" stroke-width="1.1"/>
<circle cx="52.4" cy="453.0" r="2.5" fill="#fff" stroke="#111" stroke-width="1.1"/>
<circle cx="75.4" cy="438.0" r="2.5" fill="#fff" stroke="#111" stroke-width="1.1"/>
<circle cx="167.0" cy="387.4" r="2.5" fill="#fff" stroke="#111" stroke-width="1.1"/>
<circle cx="52.4" cy="518.6" r="2.5" fill="#fff" stroke="#111" stroke-width="1.1"/>
<circle cx="75.4" cy="446.0" r="2.5" fill="#fff" stroke="#111" stroke-width="1.1"/>
<circle cx="167.0" cy="392.0" r="2.5" fill="#fff" stroke="#111" stroke-width="1.1"/>
<circle cx="52.4" cy="576.0" r="2.5" fill="#fff" stroke="#111" stroke-width="1.1"/>
<circle cx="75.4" cy="453.0" r="2.5" fill="#fff" stroke="#111" stroke-width="1.1"/>
<circle cx="167.0" cy="396.4" r="2.5" fill="#fff" stroke="#111" stroke-width="1.1"/>
<circle cx="52.4" cy="642.0" r="2.5" fill="#fff" stroke="#111" stroke-width="1.1"/>
<circle cx="75.4" cy="453.0" r="2.5" fill="#fff" stroke="#111" stroke-width="1.1"/>
<circle cx="167.0" cy="398.0" r="2.5" fill="#fff" stroke="#111" stroke-width="1.1"/>
<circle cx="52.4" cy="651.6" r="2.5" fill="#fff" stroke="#111" stroke-width="1.1"/>
<circle cx="75.4" cy="446.0" r="2.5" fill="#fff" stroke="#111" stroke-width="1.1"/>
<circle cx="167.0" cy="380.0" r="2.5" fill="#fff" stroke="#111" stroke-width="1.1"/>
<circle cx="52.4" cy="685.0" r="2.5" fill="#fff" stroke="#111" stroke-width="1.1"/>
<circle cx="75.4" cy="459.0" r="2.5" fill="#fff" stroke="#111" stroke-width="1.1"/>
<circle cx="167.0" cy="371.6" r="2.5" fill="#fff" stroke="#111" stroke-width="1.1"/>
<path d="M52.4 455.4L55.4 458.4L52.4 461.4L49.4 458.4Z" fill="#fff" fill-opacity="0.55" stroke="#111" stroke-width="1.2"/>
<path d="M75.4 430.6L78.4 433.6L75.4 436.6L72.4 433.6Z" fill="#fff" fill-opacity="0.55" stroke="#111" stroke-width="1.2"/>
<path d="M167.0 366.0L170.0 369.0L167.0 372.0L164.0 369.0Z" fill="#fff" fill-opacity="0.55" stroke="#111" stroke-width="1.2"/>
<path d="M52.4 587.0L55.4 590.0L52.4 593.0L49.4 590.0Z" fill="#fff" fill-opacity="0.55" stroke="#111" stroke-width="1.2"/>
<path d="M75.4 437.0L78.4 440.0L75.4 443.0L72.4 440.0Z" fill="#fff" fill-opacity="0.55" stroke="#111" stroke-width="1.2"/>
<path d="M167.0 368.6L170.0 371.6L167.0 374.6L164.0 371.6Z" fill="#fff" fill-opacity="0.55" stroke="#111" stroke-width="1.2"/>
<path d="M52.4 591.4L55.4 594.4L52.4 597.4L49.4 594.4Z" fill="#fff" fill-opacity="0.55" stroke="#111" stroke-width="1.2"/>
<path d="M75.4 456.0L78.4 459.0L75.4 462.0L72.4 459.0Z" fill="#fff" fill-opacity="0.55" stroke="#111" stroke-width="1.2"/>
<path d="M167.0 377.0L170.0 380.0L167.0 383.0L164.0 380.0Z" fill="#fff" fill-opacity="0.55" stroke="#111" stroke-width="1.2"/>
<path d="M52.4 614.4L55.4 617.4L52.4 620.4L49.4 617.4Z" fill="#fff" fill-opacity="0.55" stroke="#111" stroke-width="1.2"/>
<path d="M75.4 464.0L78.4 467.0L75.4 470.0L72.4 467.0Z" fill="#fff" fill-opacity="0.55" stroke="#111" stroke-width="1.2"/>
<path d="M167.0 389.0L170.0 392.0L167.0 395.0L164.0 392.0Z" fill="#fff" fill-opacity="0.55" stroke="#111" stroke-width="1.2"/>
<path d="M75.4 556.4L78.4 559.4L75.4 562.4L72.4 559.4Z" fill="#fff" fill-opacity="0.55" stroke="#111" stroke-width="1.2"/>
<path d="M105.0 459.0L106.6 460.6L105.0 462.2L103.4 460.6Z" fill="#111"/>
<text x="110.00" y="463.60" font-size="8.5" textLength="68" lengthAdjust="spacingAndGlyphs">D15 Fetal AdhFIX</text>
<circle cx="105.0" cy="476.6" r="2.3" fill="#111"/>
<text x="110.00" y="479.60" font-size="8.5" textLength="68" lengthAdjust="spacingAndGlyphs">D17 Fetal AdhFIX</text>
<circle cx="104.6" cy="493.0" r="2.4" fill="#fff" stroke="#111" stroke-width="1.1"/>
<text x="110.00" y="496.00" font-size="8.5" textLength="50.5" lengthAdjust="spacingAndGlyphs">Adult AdhFIX</text>
<path d="M105.0 505.5L107.7 508.2L105.0 510.9L102.3 508.2Z" fill="#fff" fill-opacity="0.55" stroke="#111" stroke-width="1.2"/>
<text x="110.00" y="511.40" font-size="8.5" textLength="66.5" lengthAdjust="spacingAndGlyphs">Protein challenge</text>
<text x="110.00" y="520.40" font-size="8.5">controls</text>
</svg></body></html>
